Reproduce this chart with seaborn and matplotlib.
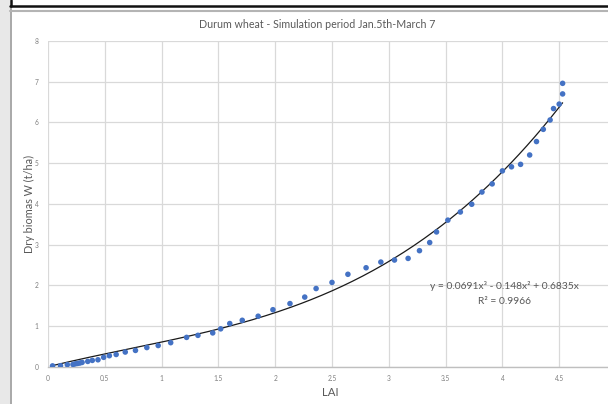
import matplotlib
matplotlib.use("Agg")
import matplotlib.pyplot as plt
import seaborn as sns
import numpy as np
import pandas as pd
from matplotlib.patches import Rectangle
from matplotlib.lines import Line2D

# ---- data ----
lai = [0.04, 0.11, 0.17, 0.22, 0.24, 0.26, 0.28, 0.30, 0.35, 0.39, 0.44,
       0.49, 0.54, 0.60, 0.68, 0.77, 0.87, 0.97, 1.08, 1.22, 1.32, 1.45,
       1.52, 1.60, 1.71, 1.85, 1.98, 2.13, 2.26, 2.36, 2.50, 2.64, 2.80,
       2.93, 3.05, 3.17, 3.27, 3.36, 3.42, 3.52, 3.63, 3.73, 3.82, 3.91,
       4.00, 4.08, 4.16, 4.24, 4.30, 4.36, 4.42, 4.45, 4.50, 4.53, 4.53]
biomass = [0.02, 0.025, 0.05, 0.055, 0.07, 0.08, 0.09, 0.105, 0.13, 0.155, 0.17,
           0.23, 0.27, 0.30, 0.36, 0.40, 0.47, 0.52, 0.59, 0.72, 0.77, 0.83,
           0.93, 1.06, 1.14, 1.24, 1.40, 1.55, 1.71, 1.92, 2.07, 2.27, 2.43,
           2.57, 2.62, 2.66, 2.85, 3.05, 3.31, 3.60, 3.80, 3.99, 4.29, 4.49,
           4.81, 4.91, 4.97, 5.20, 5.53, 5.83, 6.06, 6.34, 6.45, 6.70, 6.96]
trend_coef = [0.0691, -0.148, 0.6835, 0.0]   # cubic trendline, highest power first
x_ticks = [0, 0.5, 1, 1.5, 2, 2.5, 3, 3.5, 4, 4.5]
x_tick_labels = ["0", "0.5", "1", "1.5", "2", "2.5", "3", "3.5", "4", "4.5"]
y_ticks = [0, 1, 2, 3, 4, 5, 6, 7, 8]
y_tick_labels = ["0", "1", "2", "3", "4", "5", "6", "7", "8"]
title = "Durum wheat - Simulation period Jan.5th-March 7"
x_label = "LAI"
y_label = "Dry biomas W (t/ha)"
eq_text = "y = 0.0691x³ - 0.148x² + 0.6835x"
r2_text = "R² = 0.9966"

df = pd.DataFrame({"LAI": lai, "W": biomass})
xs = np.linspace(min(lai), max(lai), 200)
trend = pd.DataFrame({"LAI": xs, "W": np.polyval(trend_coef, xs)})

sns.set_style("white")
plt.rcParams["font.family"] = ["Lato", "DejaVu Sans"]

W, H = 608, 404
fig = plt.figure(figsize=(W / 100, H / 100), dpi=100)

def fx(px):
    return px / W

def fy(py):
    return 1 - py / H

# frame decorations
fig.patches.append(Rectangle((0, 0), fx(10), 1, transform=fig.transFigure,
                             facecolor="#e8e8e8", edgecolor="none", zorder=0))
fig.lines.append(Line2D([fx(10.5), fx(10.5)], [0, fy(6)], transform=fig.transFigure,
                        color="#9a9a9a", lw=1.2))
fig.lines.append(Line2D([fx(10), 1], [fy(5.5), fy(5.5)], transform=fig.transFigure,
                        color="#111111", lw=1.8))
fig.lines.append(Line2D([fx(10.5), fx(10.5)], [fy(6), 1], transform=fig.transFigure,
                        color="#111111", lw=1.8))
fig.lines.append(Line2D([fx(10), 1], [fy(10.5), fy(10.5)], transform=fig.transFigure,
                        color="#b4b4b4", lw=1.5))

ax_left, ax_right = 48, 616
ax_top, ax_bottom = 41, 366.7
ax = fig.add_axes([fx(ax_left), fy(ax_bottom), (ax_right - ax_left) / W,
                   (ax_bottom - ax_top) / H])
ax.set_facecolor("none")

sns.lineplot(data=trend, x="LAI", y="W", ax=ax, color="#1a1a1a", lw=0.9, zorder=3)
sns.scatterplot(data=df, x="LAI", y="W", ax=ax, color="#4472C4", s=16,
                edgecolor="none", zorder=4)

ax.set_xlim(0, 5)
ax.set_ylim(0, 8)
ax.set_xticks(x_ticks)
ax.set_xticklabels(x_tick_labels)
ax.set_yticks(y_ticks)
ax.set_yticklabels(y_tick_labels)
ax.set_xlabel("")
ax.set_ylabel("")
ax.grid(True, color="#d9d9d9", lw=0.9)
ax.set_axisbelow(True)
for s in ["top", "right", "left"]:
    ax.spines[s].set_visible(False)
ax.spines["bottom"].set_color("#bfbfbf")
ax.spines["bottom"].set_linewidth(1.0)
ax.tick_params(axis="both", length=0, labelsize=4.8, colors="#7f7f7f")
ax.tick_params(axis="x", pad=6)
ax.tick_params(axis="y", pad=7)

fig.text(fx(317.5), fy(24), title, ha="center", va="center", fontsize=7.7, color="#595959")
fig.text(fx(330.5), fy(392), x_label, ha="center", va="center", fontsize=8.2, color="#595959")
fig.text(fx(29.5), fy(204), y_label, ha="center", va="center", rotation=90,
         fontsize=7.8, color="#595959")
fig.text(fx(504.5), fy(286), eq_text, ha="center", va="center", fontsize=7.4, color="#595959")
fig.text(fx(504), fy(301), r2_text, ha="center", va="center", fontsize=7.4, color="#595959")

fig.savefig("out.png", dpi=100)
